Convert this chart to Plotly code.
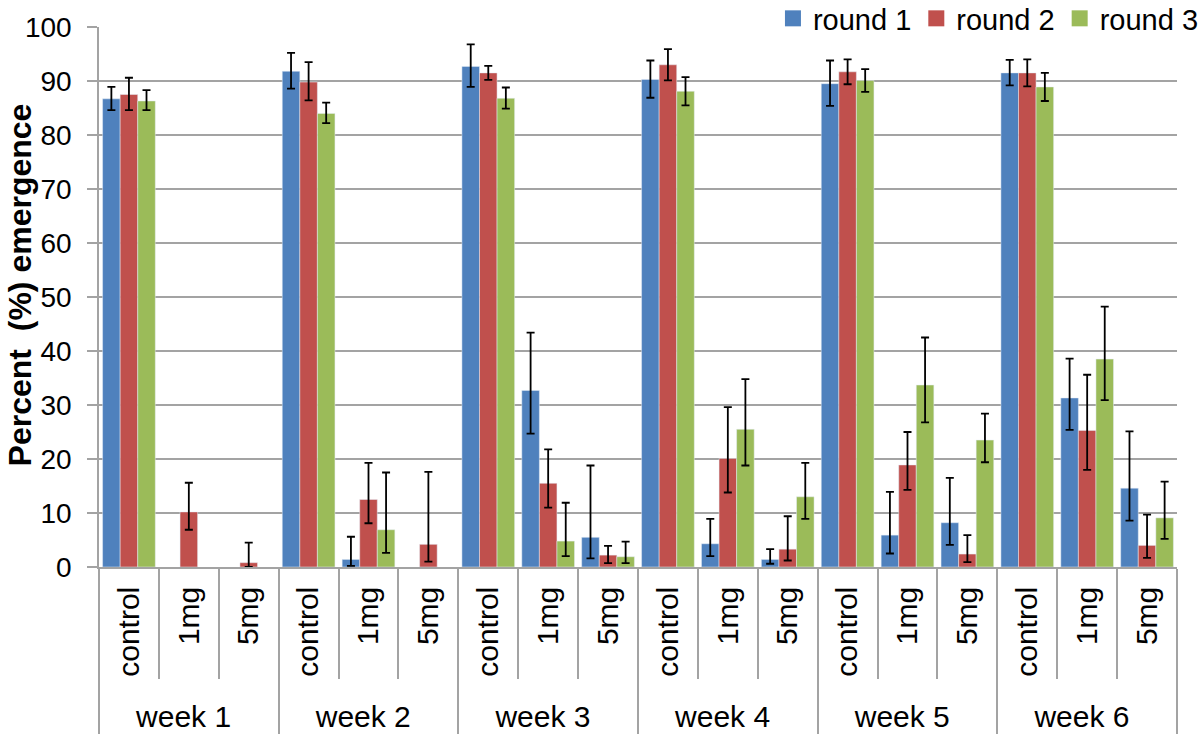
import numpy as np
import plotly.graph_objects as go

weeks = ["week 1", "week 2", "week 3", "week 4", "week 5", "week 6"]
treatments = ["control", "1mg", "5mg"]
series = ["round 1", "round 2", "round 3"]
colors = ["#4F81BD", "#C0504D", "#9BBB59"]

nan = np.nan

# percent emergence, ordered week 1 (control, 1mg, 5mg), week 2 (...), ...
round1 = [86.7, 0, 0, 91.8, 1.4, 0, 92.7, 32.7, 5.5,
          90.3, 4.3, 1.4, 89.5, 5.9, 8.2, 91.5, 31.3, 14.6]
round2 = [87.5, 10.2, 0.8, 89.8, 12.5, 4.2, 91.5, 15.5, 2.2,
          93.0, 20.1, 3.3, 91.7, 18.9, 2.4, 91.5, 25.3, 4.0]
round3 = [86.3, 0, 0, 84.0, 6.9, 0, 86.8, 4.8, 1.9,
          88.1, 25.5, 13.0, 90.1, 33.7, 23.5, 88.9, 38.5, 9.1]

# error bars (upper / lower lengths)
round1_up = [2.2, nan, nan, 3.4, 4.2, nan, 4.1, 10.7, 13.3,
             3.5, 4.6, 1.9, 4.3, 8.0, 8.3, 2.4, 7.3, 10.5]
round1_dn = [2.1, nan, nan, 3.2, 1.2, nan, 3.8, 8.0, 3.9,
             3.4, 2.3, 0.8, 4.1, 3.4, 4.1, 2.3, 5.9, 6.0]
round2_up = [3.1, 5.4, 3.7, 3.7, 6.8, 13.4, 1.3, 6.3, 1.7,
             2.9, 9.5, 6.1, 2.3, 6.1, 3.5, 2.5, 10.3, 5.7]
round2_dn = [2.9, 3.3, 0.8, 3.4, 4.4, 3.2, 1.3, 4.5, 1.5,
             2.9, 6.3, 2.1, 2.3, 4.6, 1.5, 2.5, 7.3, 2.3]
round3_up = [2.0, nan, nan, 2.0, 10.6, nan, 2.0, 7.1, 2.8,
             2.6, 9.3, 6.3, 2.1, 8.8, 4.9, 2.6, 9.7, 6.7]
round3_dn = [1.7, nan, nan, 1.8, 4.3, nan, 1.9, 2.8, 1.2,
             2.6, 6.7, 4.1, 2.1, 6.9, 4.1, 2.6, 7.6, 3.9]

values = [round1, round2, round3]
err_up = [round1_up, round2_up, round3_up]
err_dn = [round1_dn, round2_dn, round3_dn]

x_outer = [w for w in weeks for t in treatments]
x_inner = [t for w in weeks for t in treatments]

FONT = "Liberation Sans, Arial, sans-serif"
GRAY = "#A3A3A3"

fig = go.Figure()
for name, col, vals, up, dn in zip(series, colors, values, err_up, err_dn):
    # zero bars are left out so no stray error caps sit on the axis
    y = [v if v > 0 else None for v in vals]
    fig.add_trace(go.Bar(
        x=[x_outer, x_inner], y=y, name=name, marker_color=col,
        showlegend=False,
        error_y=dict(type="data", symmetric=False, array=up, arrayminus=dn,
                     color="black", thickness=1.8, width=4),
    ))
    # legend-only marker so the swatch is bigger
    fig.add_trace(go.Scatter(
        x=[[weeks[0]], [treatments[0]]], y=[None], mode="markers", name=name,
        marker=dict(symbol="square", size=16, color=col),
    ))

fig.update_layout(
    width=1200, height=736,
    margin=dict(l=99, r=23, t=27, b=169, autoexpand=False),
    plot_bgcolor="white", paper_bgcolor="white",
    font=dict(family=FONT, size=28, color="black"),
    barmode="group", bargap=0.12, bargroupgap=0,
    legend=dict(orientation="h", x=1.025, xanchor="right", y=1.063, yanchor="top",
                font=dict(size=29), bgcolor="white", itemwidth=30,
                tracegroupgap=0),
    annotations=[dict(
        text="<b>Percent  (%) emergence</b>", textangle=-90,
        xref="paper", yref="paper", x=-0.073, y=0.522,
        xanchor="center", yanchor="middle", showarrow=False,
        font=dict(size=32),
    )],
)
fig.update_yaxes(
    range=[0, 100], dtick=10, showgrid=True, gridcolor=GRAY, gridwidth=1.5,
    showline=True, linecolor=GRAY, linewidth=1.5,
    ticks="outside", ticklen=10, tickcolor=GRAY, tickwidth=1.5,
    ticklabelstandoff=10, zeroline=False, automargin=False,
)
fig.update_xaxes(
    type="multicategory", range=[-0.5, 17.5], tickangle=-90,
    tickfont=dict(size=30),
    showline=True, linecolor=GRAY, linewidth=1.5,
    ticks="outside", tickson="boundaries", ticklen=110, tickcolor=GRAY, tickwidth=1.5,
    ticklabelstandoff=6,
    showdividers=True, dividercolor=GRAY, dividerwidth=1.5,
    showgrid=False, automargin=False,
)

# drop the default page margin so the figure sits at the window's corner
fig.write_html("out.html", config={"displayModeBar": False},
               post_script="document.body.style.margin='0px';")
